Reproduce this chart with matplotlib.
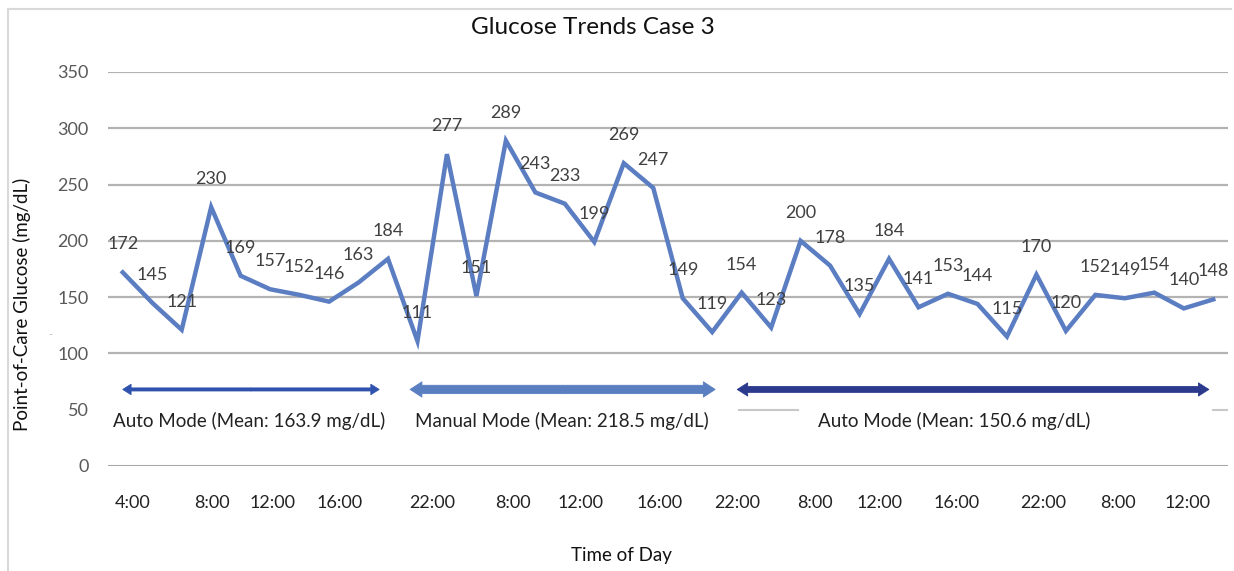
import matplotlib
matplotlib.use("Agg")
import matplotlib.pyplot as plt
from matplotlib.patches import FancyArrowPatch
from matplotlib.lines import Line2D

plt.rcParams['font.family'] = ['Lato', 'DejaVu Sans']

glucose = [172, 145, 121, 230, 169, 157, 152, 146, 163, 184,
           111, 277, 151, 289, 243, 233, 199, 269, 247, 149,
           119, 154, 123, 200, 178, 135, 184, 141, 153, 144,
           115, 170, 120, 152, 149, 154, 140, 148]
tick_labels = ["4:00", "8:00", "12:00", "16:00", "22:00", "8:00", "12:00", "16:00",
               "22:00", "8:00", "12:00", "16:00", "22:00", "8:00", "12:00"]
tick_pos = [0.32, 3.03, 5.07, 7.37, 10.5, 13.25, 15.52, 18.23,
            20.84, 23.49, 25.69, 28.3, 31.22, 33.77, 36.11]
modes = ["Auto Mode (Mean: 163.9 mg/dL)",
         "Manual Mode (Mean: 218.5 mg/dL)",
         "Auto Mode (Mean: 150.6 mg/dL)"]
mode_spans = [(0.0, 8.7), (9.75, 20.1), (20.85, 36.85)]
mode_text_x = [4.3, 14.9, 28.2]
mode_colors = ["#2F52AE", "#5A7FC1", "#2B3A8C"]
# (tail width, head width, head length) in points
mode_shapes = [(2.2, 7.5, 6.0), (6.0, 11.0, 8.5), (4.2, 9.5, 7.5)]

fig = plt.figure(figsize=(12.34, 5.71), dpi=100)
ax = fig.add_axes([108/1234, (571-466)/571, 1120/1234, (466-72)/571])

x = list(range(len(glucose)))
ax.set_xlim(-0.5, len(glucose) - 0.5)
ax.set_ylim(0, 350)

# gridlines (50 line mostly covered by text boxes in the original)
for yv in [100, 150, 200, 250, 300, 350]:
    ax.axhline(yv, color="#B3B3B3", lw=1.6, zorder=0)
ax.axhline(0, color="#A6A6A6", lw=2.2, zorder=0)
ax.plot([20.9, 22.9], [50, 50], color="#C8C8C8", lw=1.5, zorder=0)
ax.plot([37.0, 37.5], [50, 50], color="#C8C8C8", lw=1.5, zorder=0)

ax.plot(x, glucose, color="#5B7DC2", lw=3.2, solid_joinstyle='miter', zorder=3)
for xi, v in zip(x, glucose):
    ax.annotate(str(v), (xi, v), xytext=(0, 28), textcoords='offset pixels',
                ha='center', va='center', fontsize=13, color="#404040", zorder=4)

for (x0, x1), c, (tw, hw, hl) in zip(mode_spans, mode_colors, mode_shapes):
    mid = (x0 + x1) / 2
    style = f"simple,tail_width={tw},head_width={hw},head_length={hl}"
    for end in (x0, x1):
        arr = FancyArrowPatch((mid, 68), (end, 68), arrowstyle=style,
                              mutation_scale=1, facecolor=c, edgecolor=c, lw=0.6,
                              shrinkA=0, shrinkB=0, zorder=4)
        ax.add_patch(arr)
for tx, t in zip(mode_text_x, modes):
    ax.text(tx, 40, t, ha='center', va='center', fontsize=13.5, color="#222222")

for s in ax.spines.values():
    s.set_visible(False)
ax.set_yticks([0, 50, 100, 150, 200, 250, 300, 350])
ax.tick_params(axis='y', length=0, pad=14, labelsize=13, labelcolor="#595959")
ax.set_xticks(tick_pos)
ax.set_xticklabels(tick_labels)
ax.tick_params(axis='x', length=0, pad=21, labelsize=13, labelcolor="#222222")

fig.text(593/1234, 1 - 28/571, "Glucose Trends Case 3", ha='center', va='center',
         fontsize=17.5, color="#111111")
fig.text(22/1234, 1 - 304/571, "Point-of-Care Glucose (mg/dL)", rotation=90,
         ha='center', va='center', fontsize=13.5, color="#111111")
fig.text(621/1234, 1 - 555/571, "Time of Day", ha='center', va='center',
         fontsize=13.5, color="#111111")
fig.text(50/1234, 1 - 335/571, "-", ha='center', va='center', fontsize=8, color="#BBBBBB")

# outer border (left and top)
fig.add_artist(Line2D([8/1234, 8/1234], [0, 1 - 9/571], transform=fig.transFigure,
                      color="#D9D9D9", lw=1.5))
fig.add_artist(Line2D([8/1234, 1231/1234], [1 - 9/571, 1 - 9/571], transform=fig.transFigure,
                      color="#D9D9D9", lw=1.5))

fig.savefig("out.png", dpi=100)
